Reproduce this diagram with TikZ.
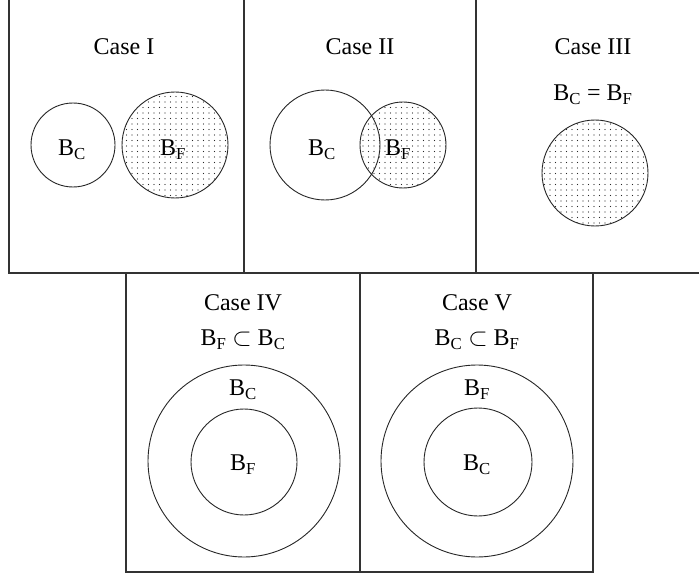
\documentclass[tikz,border=0pt]{standalone}
\usepackage{fontspec}
\setmainfont{Liberation Serif}
\usetikzlibrary{patterns.meta}
\newcommand{\Bs}[1]{B\textsubscript{#1}}

\begin{document}
\begin{tikzpicture}[x=1pt, y=-1pt, font=\fontsize{24}{28}\selectfont,
    panel/.style={draw=black!80, line width=1.4pt},
    ring/.style={circle, draw=black!85, line width=0.9pt, inner sep=0pt},
    speckled/.style={ring, pattern={Dots[distance=5.5pt, radius=0.6pt]},
      pattern color=black!85},
    tag/.style={inner sep=1pt}]
  \useasboundingbox (0,0) rectangle (699,575);
  \clip (0,0) rectangle (699,575);
  % panels
  \draw[panel] (9,-20) rectangle (244,273);
  \draw[panel] (244,-20) rectangle (476,273);
  \draw[panel] (476,-20) rectangle (720,273);
  \draw[panel] (126,273) rectangle (360,572);
  \draw[panel] (360,273) rectangle (593,572);
  % case I
  \node[tag] (t1) at (124,47) {Case I};
  \node[ring, minimum size=84pt] (c1) at (73,145) {};
  \node[speckled, minimum size=106pt] (f1) at (175,145) {};
  \node[tag] (c1l) at (72,150) {\Bs{C}};
  \node[tag] (f1l) at (173,150) {\Bs{F}};
  % case II
  \node[tag] (t2) at (360,47) {Case II};
  \node[speckled, minimum size=86pt] (f2) at (403,145) {};
  \node[ring, minimum size=110pt] (c2) at (325,145) {};
  \node[tag] (c2l) at (322,150) {\Bs{C}};
  \node[tag] (f2l) at (398,150) {\Bs{F}};
  % case III
  \node[tag] (t3) at (593,47) {Case III};
  \node[tag] (e3) at (593,95) {\Bs{C} = \Bs{F}};
  \node[speckled, minimum size=106pt] (f3) at (595,173) {};
  % case IV
  \node[tag] (t4) at (243,303) {Case IV};
  \node[tag] (e4) at (243,340) {\Bs{F} $\subset$ \Bs{C}};
  \node[ring, minimum size=192pt] (c4) at (244,461) {};
  \node[ring, minimum size=106pt] (f4) at (244,462) {};
  \node[tag] (c4l) at (243,390) {\Bs{C}};
  \node[tag] (f4l) at (243,465) {\Bs{F}};
  % case V
  \node[tag] (t5) at (477,303) {Case V};
  \node[tag] (e5) at (477,340) {\Bs{C} $\subset$ \Bs{F}};
  \node[ring, minimum size=192pt] (f5) at (477,461) {};
  \node[ring, minimum size=108pt] (c5) at (478,462) {};
  \node[tag] (f5l) at (477,390) {\Bs{F}};
  \node[tag] (c5l) at (477,465) {\Bs{C}};
\end{tikzpicture}
\end{document}
